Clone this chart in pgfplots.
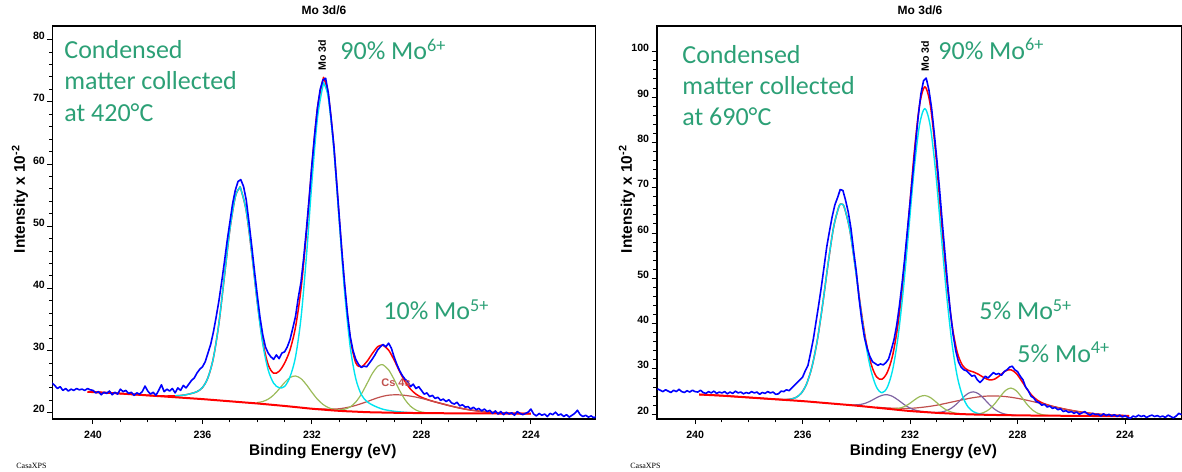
\documentclass[border=0pt]{standalone}
\usepackage{pgfplots}
\pgfplotsset{compat=1.18}
\usepackage{fontspec}
\setmainfont{Liberation Sans}
\newfontfamily\calibri{Carlito}
\newfontfamily\serifsmall{Liberation Serif}

\definecolor{cxblue}{RGB}{0,0,255}
\definecolor{cxred}{RGB}{255,0,0}
\definecolor{cxcyan}{RGB}{0,228,240}
\definecolor{cxolive}{RGB}{155,187,89}
\definecolor{cxpurple}{RGB}{128,100,162}
\definecolor{cxbrown}{RGB}{192,80,77}
\definecolor{annot}{RGB}{44,160,118}

\pgfplotsset{
  casa/.style={
    scale only axis, x dir=reverse, tick pos=left,
    axis line style={line width=0.8pt},
    tick align=outside,
    major tick length=2.6pt, minor tick length=1.7pt,
    tick style={black, line width=0.5pt},
    xtick={224,228,232,236,240}, minor x tick num=3,
    minor y tick num=4,
    /pgf/number format/assume math mode=true,
    ticklabel style={font=\fontsize{5.3}{6}\selectfont\bfseries},
    yticklabel style={yshift=1.8pt, inner sep=1pt},
    every axis plot/.append style={line join=round},
  },
  comp/.style={line width=0.6pt, smooth},
  bgline/.style={cxred, line width=1pt, smooth},
  envline/.style={cxred, line width=0.75pt, smooth},
  dataline/.style={cxblue, line width=0.8pt},
}

\begin{document}
\begin{tikzpicture}
\path[use as bounding box] (0,0) rectangle (591pt,235.5pt);

% ---------------- left panel: 420 C ----------------
\begin{axis}[casa, at={(26.25pt,26pt)}, anchor=south west,
  width=271.5pt, height=196.5pt,
  xmin=221.64, xmax=241.48, ymin=19.0, ymax=82.2,
  ytick={20,30,40,50,60,70,80}]
% envelope
\addplot[envline] coordinates {
 (240.2,23.37)(240.0,23.33)(239.6,23.24)(239.2,23.15)(238.8,23.04)(238.4,22.92)
 (238.0,22.80)(237.6,22.71)(237.2,22.70)(237.0,22.73)(236.8,22.78)(236.6,22.91)
 (236.4,23.11)(236.2,23.40)(236.0,24.06)(235.8,25.64)(235.6,28.84)(235.4,34.37)
 (235.2,41.87)(235.0,49.44)(234.8,54.74)(234.65,56.14)(234.6,56.00)(234.4,52.44)
 (234.2,45.69)(234.0,37.94)(233.8,31.52)(233.6,27.75)(233.4,26.36)(233.2,26.67)
 (233.0,27.99)(232.8,30.14)(232.6,33.80)(232.4,39.89)(232.2,49.01)(232.0,59.84)
 (231.8,68.96)(231.6,73.54)(231.55,73.61)(231.4,71.11)(231.2,62.74)(231.0,51.14)
 (230.8,39.93)(230.6,31.99)(230.4,28.06)(230.2,27.40)(230.0,28.20)(229.8,29.49)
 (229.6,30.62)(229.45,30.88)(229.4,30.85)(229.2,30.08)(229.0,28.51)(228.8,26.67)
 (228.6,25.03)(228.4,23.81)(228.2,23.00)(228.0,22.50)(227.8,22.16)(227.6,21.87)
 (227.4,21.63)(227.2,21.40)(227.0,21.17)(226.8,20.96)(226.6,20.76)(226.4,20.59)
 (226.2,20.44)(226.0,20.32)(225.6,20.13)(225.2,20.01)(224.8,19.93)(224.4,19.89)
 (224.0,19.85)};
% Cs 4s
\addplot[comp, cxbrown] coordinates {
 (232.0,20.68)(231.8,20.63)(231.6,20.60)(231.4,20.59)(231.2,20.60)(231.0,20.65)
 (230.8,20.78)(230.6,20.96)(230.4,21.19)(230.2,21.47)(230.0,21.77)(229.8,22.10)
 (229.6,22.41)(229.4,22.66)(229.2,22.83)(228.95,22.90)(228.8,22.88)(228.6,22.80)
 (228.4,22.68)(228.2,22.52)(228.0,22.32)(227.8,22.10)(227.6,21.87)(227.4,21.63)
 (227.2,21.40)(227.0,21.17)(226.8,20.96)(226.6,20.76)(226.4,20.59)(226.2,20.44)
 (226.0,20.32)(225.8,20.22)(225.6,20.13)(225.4,20.07)(225.2,20.01)(225.0,19.97)
 (224.6,19.91)(224.2,19.88)};
% Mo5+ doublet
\addplot[comp, cxolive] coordinates {
 (234.0,21.65)(233.8,21.81)(233.6,22.19)(233.4,22.86)(233.2,23.82)(233.0,24.86)
 (232.8,25.67)(232.6,25.92)(232.4,25.49)(232.2,24.50)(232.0,23.29)(231.8,22.18)
 (231.6,21.36)(231.4,20.83)(231.2,20.55)(231.0,20.46)(230.8,20.58)(230.6,20.95)
 (230.4,21.72)(230.2,22.97)(230.0,24.60)(229.8,26.27)(229.6,27.46)(229.45,27.75)
 (229.4,27.71)(229.2,26.91)(229.0,25.37)(228.8,23.62)(228.6,22.11)(228.4,21.06)
 (228.2,20.44)(228.0,20.13)(227.8,20.00)};
% Mo6+ doublet
\addplot[comp, cxcyan, line width=0.7pt] coordinates {
 (237.0,22.73)(236.8,22.78)(236.6,22.91)(236.4,23.11)(236.2,23.40)(236.0,24.06)
 (235.8,25.64)(235.6,28.84)(235.4,34.37)(235.2,41.87)(235.0,49.44)(234.8,54.74)
 (234.65,56.14)(234.6,56.00)(234.4,52.44)(234.2,45.69)(234.0,37.79)(233.8,31.13)
 (233.6,26.90)(233.4,24.76)(233.2,24.03)(233.0,24.23)(232.8,25.80)(232.6,29.00)
 (232.4,35.23)(232.2,45.25)(232.0,57.17)(231.8,67.31)(231.6,72.60)(231.55,72.83)
 (231.4,70.57)(231.2,62.33)(231.0,50.63)(230.8,39.09)(230.6,30.52)(230.4,25.51)
 (230.2,22.96)(230.0,21.83)(229.8,21.28)(229.6,20.87)(229.4,20.56)(229.2,20.38)
 (229.0,20.24)(228.8,20.15)(228.6,20.08)(228.4,20.01)};
% background
\addplot[bgline] coordinates {
 (240.2,23.37)(240.0,23.33)(239.6,23.24)(239.2,23.15)(238.8,23.04)(238.4,22.92)
 (238.0,22.80)(237.6,22.68)(237.2,22.56)(236.8,22.44)(236.4,22.32)(236.0,22.20)
 (235.6,22.06)(235.2,21.92)(234.8,21.78)(234.4,21.64)(234.0,21.50)(233.6,21.34)
 (233.2,21.18)(232.8,21.01)(232.4,20.83)(232.0,20.65)(231.6,20.51)(231.2,20.37)
 (230.8,20.26)(230.4,20.18)(230.0,20.10)(229.6,20.06)(229.2,20.02)(228.8,19.99)
 (228.4,19.97)(228.0,19.95)(227.0,19.92)(226.0,19.90)(225.0,19.88)(224.0,19.85)};
% measured data
\addplot[dataline] coordinates {
 (241.5,24.8)(241.4,24.4)(241.3,23.9)(241.2,24.2)(241.1,23.6)(241.0,23.9)
 (240.9,23.5)(240.8,23.8)(240.7,23.6)(240.6,23.9)(240.5,23.7)(240.4,23.8)
 (240.3,23.6)(240.2,23.9)(240.1,23.7)(240.0,23.6)(239.9,23.2)(239.8,23.4)
 (239.7,22.9)(239.6,23.3)(239.5,23.1)(239.4,23.5)(239.3,22.9)(239.2,23.3)
 (239.1,23.0)(239.0,23.8)(238.9,23.4)(238.8,23.6)(238.7,23.1)(238.6,23.3)
 (238.5,22.8)(238.4,23.2)(238.3,23.0)(238.2,23.4)(238.1,24.3)(238.0,23.5)
 (237.9,23.0)(237.8,23.3)(237.7,22.8)(237.6,23.6)(237.5,24.5)(237.4,23.4)
 (237.3,23.8)(237.2,23.5)(237.1,23.9)(237.0,23.2)(236.9,24.0)(236.8,23.6)
 (236.7,24.4)(236.6,24.0)(236.5,24.6)(236.4,25.2)(236.3,25.6)(236.2,26.4)
 (236.1,27.0)(236.0,27.4)(235.9,28.2)(235.8,29.6)(235.7,31.0)(235.6,33.0)
 (235.5,35.4)(235.4,38.0)(235.3,41.0)(235.2,44.2)(235.1,47.6)(235.0,50.6)
 (234.9,53.6)(234.8,55.8)(234.7,57.2)(234.6,57.5)(234.5,56.4)(234.4,54.2)
 (234.3,50.6)(234.2,46.8)(234.1,42.8)(234.0,39.0)(233.9,35.4)(233.8,32.6)
 (233.7,30.6)(233.6,29.6)(233.5,29.0)(233.4,28.6)(233.3,29.3)(233.2,28.7)
 (233.1,29.6)(233.0,29.8)(232.9,30.6)(232.8,31.8)(232.7,33.6)(232.6,35.5)
 (232.5,38.5)(232.4,41.0)(232.3,45.0)(232.2,49.6)(232.1,54.6)(232.0,60.0)
 (231.9,64.8)(231.8,69.0)(231.7,72.0)(231.6,73.5)(231.5,73.8)(231.4,71.4)
 (231.3,67.4)(231.2,63.0)(231.1,57.2)(231.0,51.4)(230.9,45.6)(230.8,40.4)
 (230.7,35.8)(230.6,32.2)(230.5,30.0)(230.4,28.6)(230.3,27.8)(230.2,27.3)
 (230.1,27.5)(230.0,27.4)(229.9,28.0)(229.8,28.6)(229.7,29.3)(229.6,30.1)
 (229.5,30.6)(229.4,31.0)(229.3,30.6)(229.2,31.2)(229.1,30.4)(229.0,29.0)
 (228.9,27.8)(228.8,26.8)(228.7,26.0)(228.6,25.4)(228.5,25.0)(228.4,24.2)
 (228.3,24.6)(228.2,23.9)(228.1,24.2)(228.0,23.6)(227.9,23.0)(227.8,23.2)
 (227.7,22.6)(227.6,22.8)(227.5,22.3)(227.4,22.5)(227.3,22.0)(227.2,22.2)
 (227.1,21.8)(227.0,22.1)(226.9,21.6)(226.8,21.4)(226.7,21.7)(226.6,21.1)
 (226.5,21.3)(226.4,20.9)(226.3,21.0)(226.2,20.6)(226.1,20.9)(226.0,20.5)
 (225.9,20.7)(225.8,20.3)(225.7,20.6)(225.6,20.2)(225.5,20.4)(225.4,19.9)
 (225.3,20.3)(225.2,19.8)(225.1,20.2)(225.0,19.7)(224.9,20.1)(224.8,19.8)
 (224.7,20.0)(224.6,19.6)(224.5,20.2)(224.4,19.9)(224.3,19.7)(224.2,19.9)
 (224.1,20.1)(224.0,20.6)(223.9,19.8)(223.8,19.5)(223.7,19.9)(223.6,19.6)
 (223.5,19.8)(223.4,19.4)(223.3,19.9)(223.2,19.7)(223.1,20.1)(223.0,19.6)
 (222.9,19.8)(222.8,19.4)(222.7,19.7)(222.6,19.3)(222.5,19.6)(222.4,19.9)
 (222.3,20.4)(222.2,19.7)(222.1,19.4)(222.0,19.6)(221.9,19.3)(221.8,19.5)
 (221.7,19.2)(221.6,19.4)};
\end{axis}

% ---------------- right panel: 690 C ----------------
\begin{axis}[casa, at={(328.35pt,26pt)}, anchor=south west,
  width=262.65pt, height=196.5pt,
  xmin=221.88, xmax=241.43, ymin=18.95, ymax=105.7,
  ytick={20,30,40,50,60,70,80,90,100}]
% envelope
\addplot[envline] coordinates {
 (239.85,24.36)(239.45,24.24)(239.05,24.12)(238.65,23.96)(238.25,23.80)(237.85,23.64)
 (237.45,23.48)(237.05,23.32)(236.85,23.26)(236.65,23.24)(236.45,23.33)(236.25,23.69)
 (236.05,24.64)(235.85,26.72)(235.65,30.51)(235.45,36.42)(235.25,44.41)(235.05,53.28)
 (234.85,61.18)(234.65,65.81)(234.55,66.38)(234.45,65.71)(234.25,60.92)(234.05,52.95)
 (233.85,44.11)(233.65,36.38)(233.45,31.05)(233.25,28.27)(233.05,27.72)(232.85,29.23)
 (232.65,32.98)(232.45,39.83)(232.25,50.21)(232.05,63.50)(231.85,77.44)(231.65,88.17)
 (231.45,92.29)(231.25,88.34)(231.05,77.75)(230.85,63.83)(230.65,50.48)(230.45,40.20)
 (230.25,33.78)(230.05,30.78)(229.85,29.74)(229.65,29.35)(229.45,28.80)(229.25,28.08)
 (229.05,27.58)(228.85,27.76)(228.65,28.60)(228.45,29.56)(228.25,29.82)(228.05,29.02)
 (227.85,27.38)(227.65,25.56)(227.45,24.06)(227.25,23.05)(227.05,22.42)(226.85,22.01)
 (226.65,21.67)(226.45,21.40)(226.25,21.14)(226.05,20.90)(225.85,20.69)(225.65,20.50)
 (225.45,20.33)(225.25,20.18)(225.05,20.05)(224.85,19.96)(224.45,19.81)(224.05,19.72)
 (223.85,19.70)};
% broad component
\addplot[comp, cxbrown] coordinates {
 (233.25,21.55)(233.05,21.46)(232.85,21.39)(232.65,21.34)(232.45,21.30)(232.25,21.29)
 (232.05,21.30)(231.85,21.36)(231.65,21.47)(231.45,21.60)(231.25,21.76)(231.05,21.95)
 (230.85,22.18)(230.65,22.43)(230.45,22.69)(230.25,22.94)(230.05,23.19)(229.85,23.44)
 (229.65,23.66)(229.45,23.83)(229.25,23.96)(229.05,24.03)(228.85,24.04)(228.65,23.99)
 (228.45,23.90)(228.25,23.75)(228.05,23.56)(227.85,23.34)(227.65,23.09)(227.45,22.82)
 (227.25,22.54)(227.05,22.25)(226.85,21.96)(226.65,21.67)(226.45,21.40)(226.25,21.14)
 (226.05,20.90)(225.85,20.69)(225.65,20.50)(225.45,20.33)(225.25,20.18)(225.05,20.05)
 (224.85,19.96)(224.45,19.81)(224.05,19.72)};
% Mo4+ doublet
\addplot[comp, cxpurple] coordinates {
 (234.25,22.07)(234.05,22.07)(233.85,22.16)(233.65,22.46)(233.45,22.99)(233.25,23.64)
 (233.05,24.17)(232.85,24.31)(232.65,23.93)(232.45,23.16)(232.25,22.27)(232.05,21.50)
 (231.85,20.99)(231.65,20.70)(231.45,20.52)(231.25,20.42)(231.05,20.39)(230.85,20.48)
 (230.65,20.77)(230.45,21.39)(230.25,22.37)(230.05,23.56)(229.85,24.57)(229.65,24.95)
 (229.45,24.51)(229.25,23.43)(229.05,22.15)(228.85,21.09)(228.65,20.39)(228.45,20.02)
 (228.25,19.85)(228.05,19.78)};
% Mo5+ doublet
\addplot[comp, cxolive] coordinates {
 (232.85,21.24)(232.65,21.20)(232.45,21.28)(232.25,21.60)(232.05,22.23)(231.85,23.10)
 (231.65,23.87)(231.45,24.13)(231.25,23.71)(231.05,22.78)(230.85,21.76)(230.65,20.95)
 (230.45,20.45)(230.25,20.19)(230.05,20.05)(229.85,19.99)(229.65,20.00)(229.45,20.09)
 (229.25,20.40)(229.05,21.10)(228.85,22.31)(228.65,23.86)(228.45,25.24)(228.25,25.78)
 (228.05,25.20)(227.85,23.78)(227.65,22.20)(227.45,20.96)(227.25,20.22)(227.05,19.87)
 (226.85,19.74)};
% Mo6+ doublet
\addplot[comp, cxcyan, line width=0.7pt] coordinates {
 (236.85,23.26)(236.65,23.24)(236.45,23.33)(236.25,23.69)(236.05,24.64)(235.85,26.72)
 (235.65,30.51)(235.45,36.42)(235.25,44.41)(235.05,53.28)(234.85,61.18)(234.65,65.81)
 (234.55,66.38)(234.45,65.71)(234.25,60.88)(234.05,52.78)(233.85,43.71)(233.65,35.55)
 (233.45,29.56)(233.25,25.98)(233.05,24.75)(232.85,25.92)(232.65,29.78)(232.45,37.00)
 (232.25,47.60)(232.05,60.66)(231.85,73.91)(231.65,83.81)(231.45,87.48)(231.25,83.65)
 (231.05,73.59)(230.85,60.19)(230.65,46.93)(230.45,36.09)(230.25,28.52)(230.05,24.04)
 (229.85,21.68)(229.65,20.59)(229.45,20.13)(229.25,19.96)(229.05,19.88)(228.85,19.84)};
% background
\addplot[bgline] coordinates {
 (239.85,24.36)(239.45,24.24)(239.05,24.12)(238.65,23.96)(238.25,23.80)(237.85,23.64)
 (237.45,23.48)(237.05,23.32)(236.65,23.16)(236.25,23.00)(235.85,22.83)(235.45,22.63)
 (235.05,22.43)(234.65,22.23)(234.25,22.03)(233.85,21.81)(233.45,21.57)(233.05,21.33)
 (232.65,21.09)(232.25,20.85)(231.85,20.64)(231.45,20.48)(231.05,20.32)(230.65,20.20)
 (230.25,20.08)(229.85,19.98)(229.45,19.92)(229.05,19.86)(228.65,19.82)(228.25,19.78)
 (227.85,19.74)(227.45,19.72)(227.05,19.70)(226.25,19.66)(225.45,19.62)(224.65,19.60)
 (223.85,19.60)};
% measured data
\addplot[dataline] coordinates {
 (241.4,25.6)(241.3,25.3)(241.2,25.0)(241.1,25.4)(241.0,25.1)(240.9,24.8)
 (240.8,25.3)(240.7,25.0)(240.6,25.5)(240.5,25.0)(240.4,24.8)(240.3,25.2)
 (240.2,24.9)(240.1,25.3)(240.0,25.0)(239.9,24.9)(239.8,25.3)(239.7,24.8)
 (239.6,24.6)(239.5,25.0)(239.4,24.7)(239.3,25.1)(239.2,24.6)(239.1,24.9)
 (239.0,24.7)(238.9,25.0)(238.8,24.5)(238.7,24.9)(238.6,24.6)(238.5,25.1)
 (238.4,24.7)(238.3,24.9)(238.2,24.5)(238.1,24.8)(238.0,24.6)(237.9,25.0)
 (237.8,24.7)(237.7,24.9)(237.6,24.4)(237.5,24.8)(237.4,24.6)(237.3,25.0)
 (237.2,24.7)(237.1,24.9)(237.0,24.4)(236.9,24.5)(236.8,25.1)(236.7,25.0)
 (236.6,25.4)(236.5,25.2)(236.4,25.8)(236.3,26.4)(236.2,27.0)(236.1,27.6)
 (236.0,28.2)(235.9,29.6)(235.8,30.8)(235.7,33.6)(235.6,36.6)(235.5,40.4)
 (235.4,44.2)(235.3,48.2)(235.2,52.6)(235.1,57.0)(235.0,60.4)(234.9,63.6)
 (234.8,66.2)(234.7,67.8)(234.6,69.6)(234.5,69.4)(234.4,67.2)(234.3,64.6)
 (234.2,61.0)(234.1,56.0)(234.0,51.4)(233.9,45.6)(233.8,40.8)(233.7,37.0)
 (233.6,34.6)(233.5,32.8)(233.4,31.6)(233.3,31.2)(233.2,30.8)(233.1,31.1)
 (233.0,30.9)(232.9,31.4)(232.8,32.2)(232.7,34.2)(232.6,36.4)(232.5,39.6)
 (232.4,43.8)(232.3,48.8)(232.2,54.4)(232.1,60.6)(232.0,66.8)(231.9,73.0)
 (231.8,79.6)(231.7,85.6)(231.6,90.6)(231.5,93.6)(231.4,94.2)(231.3,91.6)
 (231.2,87.6)(231.1,82.0)(231.0,76.0)(230.9,69.4)(230.8,62.2)(230.7,55.4)
 (230.6,48.6)(230.5,42.6)(230.4,37.6)(230.3,34.0)(230.2,31.6)(230.1,30.4)
 (230.0,29.8)(229.9,29.6)(229.8,29.0)(229.7,28.4)(229.6,28.6)(229.5,27.6)
 (229.4,27.0)(229.3,27.6)(229.2,28.4)(229.1,28.0)(229.0,28.6)(228.9,29.2)
 (228.8,28.8)(228.7,29.0)(228.6,28.6)(228.5,29.4)(228.4,29.8)(228.3,30.4)
 (228.2,30.6)(228.1,29.8)(228.0,29.4)(227.9,28.4)(227.8,27.6)(227.7,26.0)
 (227.6,25.2)(227.5,24.0)(227.4,23.6)(227.3,22.8)(227.2,22.6)(227.1,22.0)
 (227.0,22.2)(226.9,21.6)(226.8,21.8)(226.7,21.3)(226.6,21.5)(226.5,21.0)
 (226.4,21.2)(226.3,20.6)(226.2,20.8)(226.1,20.4)(226.0,20.6)(225.9,20.2)
 (225.8,20.5)(225.7,20.0)(225.6,20.3)(225.5,20.6)(225.4,20.1)(225.3,19.8)
 (225.2,20.2)(225.1,19.9)(225.0,20.0)(224.9,19.6)(224.8,20.1)(224.7,19.7)
 (224.6,20.0)(224.5,19.6)(224.4,19.9)(224.3,19.5)(224.2,19.8)(224.1,19.4)
 (224.0,19.7)(223.9,19.3)(223.8,19.1)(223.7,19.6)(223.6,19.4)(223.5,19.8)
 (223.4,19.5)(223.3,19.7)(223.2,19.3)(223.1,19.6)(223.0,19.8)(222.9,19.5)
 (222.8,19.7)(222.7,19.4)(222.6,19.6)(222.5,19.3)(222.4,19.8)(222.3,19.5)
 (222.2,19.2)(222.1,19.6)(222.0,20.2)(221.9,19.9)};
\end{axis}

% ---------------- frame texts ----------------
\def\ttl{\fontsize{6}{7}\selectfont\bfseries}
\def\lbl{\fontsize{7.7}{8.5}\selectfont\bfseries}
\node[font=\ttl] at (162pt,230.5pt) {Mo 3d/6};
\node[font=\ttl] at (460pt,230.5pt) {Mo 3d/6};
\node[font=\lbl, rotate=90] at (10pt,136pt) {Intensity x 10\textsuperscript{-2}};
\node[font=\lbl, rotate=90] at (313.5pt,136pt) {Intensity x 10\textsuperscript{-2}};
\node[font=\lbl] at (161.4pt,9.5pt) {Binding Energy (eV)};
\node[font=\lbl] at (461.7pt,9.5pt) {Binding Energy (eV)};
\node[font=\serifsmall\fontsize{4}{5}\selectfont, anchor=west, inner sep=0pt] at (8pt,2.6pt) {CasaXPS};
\node[font=\serifsmall\fontsize{4}{5}\selectfont, anchor=west, inner sep=0pt] at (315pt,2.6pt) {CasaXPS};

% peak labels
\node[font=\fontsize{5.3}{6}\selectfont\bfseries, rotate=90] at (161pt,208pt) {Mo 3d};
\node[font=\fontsize{5.3}{6}\selectfont\bfseries, rotate=90] at (462.5pt,207.5pt) {Mo 3d};
\node[font=\fontsize{5.5}{6}\selectfont\bfseries, text=cxbrown] at (198pt,44pt) {Cs 4s};

% annotations
\def\ann{\calibri\fontsize{13}{15}\selectfont}
\begin{scope}[every node/.style={anchor=base west, inner sep=0pt, text=annot, font=\ann}]
\node at (32pt,206.35pt) {Condensed};
\node at (32pt,190.5pt) {matter collected};
\node at (32pt,174.65pt) {at 420°C};
\node at (170pt,205.5pt) {90\% Mo\textsuperscript{6+}};
\node at (191.5pt,75.5pt) {10\% Mo\textsuperscript{5+}};
\node at (341pt,203.75pt) {Condensed};
\node at (341pt,188.25pt) {matter collected};
\node at (341pt,172.75pt) {at 690°C};
\node at (469pt,205.85pt) {90\% Mo\textsuperscript{6+}};
\node at (489.5pt,75.5pt) {5\% Mo\textsuperscript{5+}};
\node at (508.5pt,54.15pt) {5\% Mo\textsuperscript{4+}};
\end{scope}
\end{tikzpicture}
\end{document}
